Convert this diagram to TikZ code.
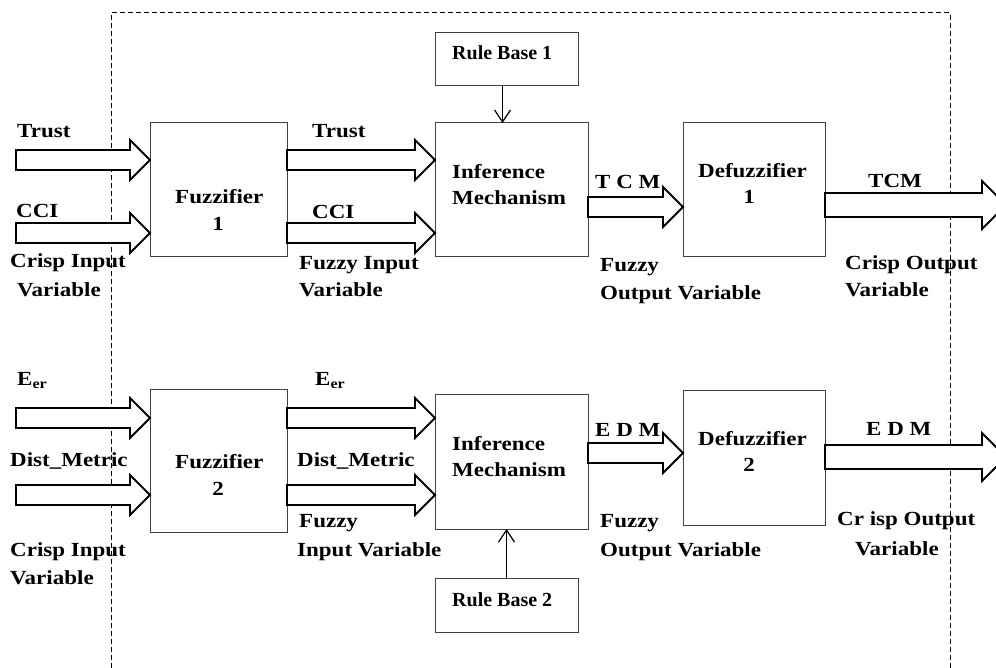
\documentclass[tikz,border=0pt]{standalone}
\usepackage{fontspec}
\setmainfont[FakeStretch=1.15]{Liberation Serif}
\newfontfamily\plainserif{Liberation Serif}
\usetikzlibrary{arrows.meta, calc}

% hollow block arrow: [half shaft] {from} {to}
\newcommand{\fatarrow}[3][10]{%
  \draw[fatline] let \p1=#2, \p2=#3 in
    (\x1,\y1+#1pt) -- (\x2-2*#1pt,\y1+#1pt) -- (\x2-2*#1pt,\y1+2*#1pt) -- (\x2,\y1)
    -- (\x2-2*#1pt,\y1-2*#1pt) -- (\x2-2*#1pt,\y1-#1pt) -- (\x1,\y1-#1pt) -- cycle;}

\begin{document}
\begin{tikzpicture}[x=1pt, y=-1pt,
    blk/.style={draw=black!75, line width=1pt, inner sep=0pt, outer sep=0pt},
    fatline/.style={draw=black, line width=1.8pt, fill=white, line join=miter},
    txt/.style={font=\fontsize{20}{24}\selectfont\bfseries, inner sep=0pt, anchor=base west},
    rtxt/.style={font=\plainserif\fontsize{20}{24}\selectfont\bfseries, inner sep=0pt, anchor=base west},
    ptr/.style={line width=1.2pt, -{Straight Barb[length=12pt, width=16pt, line width=1.2pt]}},
    frame/.style={line width=1pt, dash pattern=on 5pt off 3pt}]
  \useasboundingbox (0,0) rectangle (996,668);
  \clip (0,0) rectangle (996,668);

  % dashed frame
  \draw[frame] (111,700) -- (111,13) -- (950,13) -- (950,700);

  % blocks, upper chain
  \node[blk, minimum width=137pt, minimum height=134pt] (fuzz1) at (218.5,190) {};
  \node[blk, minimum width=153pt, minimum height=134pt] (inf1) at (511.5,190) {};
  \node[blk, minimum width=142pt, minimum height=134pt] (defuz1) at (754,190) {};
  \node[blk, minimum width=143pt, minimum height=53pt] (rule1) at (506.5,59.5) {};
  % blocks, lower chain
  \node[blk, minimum width=137pt, minimum height=143pt] (fuzz2) at (218.5,460.5) {};
  \node[blk, minimum width=153pt, minimum height=135pt] (inf2) at (511.5,461.5) {};
  \node[blk, minimum width=142pt, minimum height=135pt] (defuz2) at (754,457.5) {};
  \node[blk, minimum width=143pt, minimum height=54pt] (rule2) at (506.5,605) {};

  % arrow rows
  \coordinate (in1a) at (16,160);
  \coordinate (in1b) at (16,233);
  \coordinate (in2a) at (16,418);
  \coordinate (in2b) at (16,495);
  \coordinate (tcm) at (683,207);
  \coordinate (edm) at (683,453);
  \coordinate (out1) at (1006,205);
  \coordinate (out2) at (1006,457);

  \fatarrow{(in1a)}{(fuzz1.west |- in1a)}
  \fatarrow{(in1b)}{(fuzz1.west |- in1b)}
  \fatarrow{(fuzz1.east |- in1a)}{(inf1.west |- in1a)}
  \fatarrow{(fuzz1.east |- in1b)}{(inf1.west |- in1b)}
  \fatarrow{(inf1.east |- tcm)}{(defuz1.west |- tcm)}
  \fatarrow[12]{(defuz1.east |- out1)}{(out1)}

  \fatarrow{(in2a)}{(fuzz2.west |- in2a)}
  \fatarrow{(in2b)}{(fuzz2.west |- in2b)}
  \fatarrow{(fuzz2.east |- in2a)}{(inf2.west |- in2a)}
  \fatarrow{(fuzz2.east |- in2b)}{(inf2.west |- in2b)}
  \fatarrow{(inf2.east |- edm)}{(defuz2.west |- edm)}
  \fatarrow[12]{(defuz2.east |- out2)}{(out2)}

  \draw[ptr] ([xshift=-4pt]rule1.south) -- ([xshift=-4pt]rule1.south |- inf1.north);
  \draw[ptr] (rule2.north) -- (rule2.north |- inf2.south);

  % texts, upper chain
  \node[rtxt] (rule1t) at (452,60) {Rule Base 1};
  \node[txt] (trust0) at (17,138) {Trust};
  \node[txt] (cci0) at (16,218) {CCI};
  \node[txt] (crisp1a) at (10,268) {Crisp Input};
  \node[txt] (crisp1b) at (17,297) {Variable};
  \node[txt] (fuzz1a) at (175,204) {Fuzzifier};
  \node[txt, anchor=base] (fuzz1b) at (218,231) {1};
  \node[txt] (trust1) at (312,138) {Trust};
  \node[txt] (cci1) at (312,219) {CCI};
  \node[txt] (fin1a) at (299,270) {Fuzzy Input};
  \node[txt] (fin1b) at (299,297) {Variable};
  \node[txt] (inf1a) at (452,179) {Inference};
  \node[txt] (inf1b) at (452,205) {Mechanism};
  \node[txt] (tcm1) at (595,189) {T C M};
  \node[txt] (fout1a) at (600,272) {Fuzzy};
  \node[txt] (fout1b) at (600,300) {Output Variable};
  \node[txt] (defuz1a) at (698,178) {Defuzzifier};
  \node[txt, anchor=base] (defuz1b) at (749,204) {1};
  \node[txt] (tcm2) at (868,188) {TCM};
  \node[txt] (cout1a) at (845,270) {Crisp Output};
  \node[txt] (cout1b) at (845,297) {Variable};

  % texts, lower chain
  \node[rtxt] (rule2t) at (452,606) {Rule Base 2};
  \node[txt] (eer0) at (17,385) {E\textsubscript{er}};
  \node[txt] (dist0) at (10,466) {Dist\_Metric};
  \node[txt] (crisp2a) at (10,556) {Crisp Input};
  \node[txt] (crisp2b) at (10,584) {Variable};
  \node[txt] (fuzz2a) at (175,468) {Fuzzifier};
  \node[txt, anchor=base] (fuzz2b) at (218,495) {2};
  \node[txt] (eer1) at (315,385) {E\textsubscript{er}};
  \node[txt] (dist1) at (297,466) {Dist\_Metric};
  \node[txt] (fin2a) at (299,527) {Fuzzy};
  \node[txt] (fin2b) at (297,556) {Input Variable};
  \node[txt] (inf2a) at (452,450) {Inference};
  \node[txt] (inf2b) at (452,476) {Mechanism};
  \node[txt] (edm1) at (595,436) {E D M};
  \node[txt] (fout2a) at (600,527) {Fuzzy};
  \node[txt] (fout2b) at (600,556) {Output Variable};
  \node[txt] (defuz2a) at (698,445) {Defuzzifier};
  \node[txt, anchor=base] (defuz2b) at (749,471) {2};
  \node[txt] (edm2) at (866,435) {E D M};
  \node[txt] (cout2a) at (837,525) {Cr isp Output};
  \node[txt] (cout2b) at (855,555) {Variable};
\end{tikzpicture}
\end{document}
